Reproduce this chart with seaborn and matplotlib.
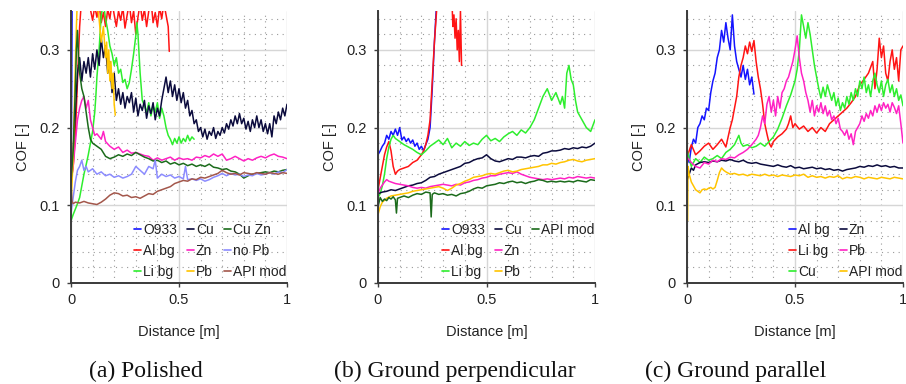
import matplotlib
matplotlib.use('Agg')
import matplotlib.pyplot as plt
import seaborn as sns
import pandas as pd
from matplotlib.lines import Line2D
from matplotlib.ticker import MultipleLocator

sns.set_theme(style='white')
plt.rcParams['font.family'] = ['Liberation Sans', 'DejaVu Sans']

# ---------------- Panel (a) Polished ----------------
a_o933 = [(0.0, 0.10), (0.003, 0.24), (0.006, 0.40), (0.02, 0.48), (0.5, 0.5), (1.0, 0.5)]
a_cu = [(0.00, 0.13), (0.01, 0.17), (0.02, 0.22), (0.03, 0.27), (0.04, 0.29), (0.05, 0.26), (0.06, 0.285),
        (0.07, 0.27), (0.08, 0.29), (0.09, 0.265), (0.10, 0.295), (0.11, 0.275), (0.12, 0.30), (0.13, 0.28),
        (0.14, 0.315), (0.15, 0.29), (0.16, 0.305), (0.17, 0.27), (0.18, 0.285), (0.19, 0.245), (0.20, 0.27),
        (0.21, 0.235), (0.22, 0.25), (0.23, 0.23), (0.24, 0.245), (0.25, 0.225), (0.26, 0.24), (0.27, 0.232),
        (0.28, 0.245), (0.29, 0.22), (0.30, 0.238), (0.31, 0.215), (0.32, 0.23), (0.33, 0.222), (0.34, 0.235),
        (0.35, 0.212), (0.36, 0.228), (0.37, 0.218), (0.38, 0.232), (0.39, 0.21), (0.40, 0.225), (0.41, 0.215),
        (0.42, 0.235), (0.43, 0.25), (0.44, 0.265), (0.45, 0.245), (0.46, 0.26), (0.47, 0.24), (0.48, 0.255),
        (0.49, 0.235), (0.50, 0.25), (0.51, 0.232), (0.52, 0.245), (0.53, 0.225), (0.54, 0.235), (0.55, 0.215),
        (0.56, 0.222), (0.57, 0.205), (0.58, 0.21), (0.59, 0.195), (0.60, 0.20), (0.61, 0.188), (0.62, 0.198),
        (0.63, 0.185), (0.64, 0.195), (0.65, 0.19), (0.66, 0.20), (0.67, 0.186), (0.68, 0.195), (0.69, 0.19),
        (0.70, 0.20), (0.71, 0.193), (0.72, 0.205), (0.73, 0.198), (0.74, 0.21), (0.75, 0.202), (0.76, 0.215),
        (0.77, 0.205), (0.78, 0.218), (0.79, 0.205), (0.80, 0.212), (0.81, 0.198), (0.82, 0.208), (0.83, 0.195),
        (0.84, 0.21), (0.85, 0.20), (0.86, 0.215), (0.87, 0.20), (0.88, 0.21), (0.89, 0.195), (0.90, 0.205),
        (0.91, 0.192), (0.92, 0.205), (0.93, 0.188), (0.94, 0.215), (0.95, 0.205), (0.96, 0.22), (0.97, 0.21),
        (0.98, 0.225), (0.99, 0.215), (1.00, 0.23)]
a_cuzn = [(0.0, 0.13), (0.01, 0.17), (0.02, 0.25), (0.025, 0.30), (0.03, 0.325), (0.035, 0.29), (0.04, 0.27),
          (0.05, 0.25), (0.06, 0.24), (0.07, 0.22), (0.08, 0.20), (0.09, 0.185), (0.10, 0.18), (0.12, 0.176),
          (0.14, 0.172), (0.16, 0.163), (0.18, 0.16), (0.20, 0.162), (0.22, 0.165), (0.24, 0.163), (0.26, 0.166),
          (0.28, 0.164), (0.30, 0.168), (0.32, 0.165), (0.34, 0.162), (0.36, 0.16), (0.38, 0.157), (0.40, 0.158),
          (0.42, 0.155), (0.44, 0.157), (0.46, 0.153), (0.48, 0.155), (0.50, 0.152), (0.52, 0.154), (0.54, 0.151),
          (0.56, 0.153), (0.58, 0.15), (0.60, 0.152), (0.62, 0.15), (0.64, 0.153), (0.66, 0.149), (0.68, 0.148),
          (0.70, 0.146), (0.72, 0.147), (0.74, 0.144), (0.76, 0.143), (0.78, 0.14), (0.80, 0.135), (0.82, 0.138),
          (0.84, 0.14), (0.86, 0.141), (0.88, 0.142), (0.90, 0.143), (0.92, 0.142), (0.94, 0.144), (0.96, 0.143),
          (0.98, 0.145), (1.00, 0.146)]
a_albg = [(0.0, 0.13), (0.01, 0.15), (0.02, 0.19), (0.03, 0.26), (0.04, 0.33), (0.05, 0.37), (0.06, 0.39),
          (0.07, 0.38), (0.08, 0.37), (0.09, 0.352), (0.10, 0.338), (0.11, 0.356), (0.12, 0.342), (0.13, 0.36),
          (0.14, 0.335), (0.15, 0.348), (0.16, 0.33), (0.17, 0.352), (0.18, 0.34), (0.19, 0.362), (0.20, 0.345),
          (0.21, 0.33), (0.22, 0.35), (0.23, 0.338), (0.24, 0.355), (0.25, 0.328), (0.26, 0.345), (0.27, 0.36),
          (0.28, 0.335), (0.29, 0.35), (0.30, 0.32), (0.31, 0.342), (0.32, 0.36), (0.33, 0.338), (0.34, 0.352),
          (0.35, 0.33), (0.36, 0.35), (0.37, 0.365), (0.38, 0.335), (0.39, 0.348), (0.40, 0.33), (0.41, 0.355),
          (0.42, 0.34), (0.43, 0.36), (0.44, 0.345), (0.45, 0.33), (0.455, 0.298)]
a_zn = [(0.0, 0.13), (0.01, 0.15), (0.02, 0.18), (0.03, 0.21), (0.04, 0.225), (0.05, 0.235), (0.06, 0.24),
        (0.07, 0.225), (0.08, 0.235), (0.09, 0.21), (0.10, 0.20), (0.11, 0.19), (0.12, 0.192), (0.14, 0.185),
        (0.15, 0.195), (0.16, 0.182), (0.18, 0.176), (0.20, 0.172), (0.22, 0.175), (0.24, 0.168), (0.26, 0.171),
        (0.28, 0.167), (0.30, 0.168), (0.32, 0.166), (0.34, 0.164), (0.36, 0.163), (0.38, 0.158), (0.40, 0.161),
        (0.42, 0.158), (0.44, 0.16), (0.46, 0.162), (0.48, 0.158), (0.50, 0.161), (0.52, 0.159), (0.54, 0.16),
        (0.56, 0.158), (0.58, 0.162), (0.60, 0.161), (0.62, 0.164), (0.64, 0.162), (0.66, 0.166), (0.68, 0.163),
        (0.70, 0.166), (0.72, 0.158), (0.74, 0.16), (0.76, 0.163), (0.78, 0.16), (0.80, 0.157), (0.82, 0.16),
        (0.84, 0.158), (0.86, 0.161), (0.88, 0.163), (0.90, 0.161), (0.92, 0.164), (0.94, 0.166), (0.96, 0.163),
        (0.98, 0.162), (1.00, 0.16)]
a_nopb = [(0.0, 0.09), (0.01, 0.11), (0.02, 0.13), (0.03, 0.145), (0.04, 0.15), (0.05, 0.158), (0.06, 0.145),
          (0.07, 0.15), (0.08, 0.143), (0.10, 0.147), (0.12, 0.14), (0.14, 0.143), (0.16, 0.138), (0.18, 0.14),
          (0.20, 0.136), (0.22, 0.138), (0.24, 0.135), (0.26, 0.137), (0.28, 0.14), (0.30, 0.15), (0.32, 0.145),
          (0.34, 0.14), (0.36, 0.15), (0.38, 0.147), (0.39, 0.158), (0.40, 0.135), (0.42, 0.14), (0.44, 0.137),
          (0.46, 0.139), (0.48, 0.135), (0.50, 0.137), (0.52, 0.134), (0.53, 0.15), (0.54, 0.133), (0.56, 0.134),
          (0.58, 0.132), (0.60, 0.134), (0.62, 0.131), (0.64, 0.133), (0.66, 0.136), (0.68, 0.138), (0.70, 0.141),
          (0.72, 0.138), (0.74, 0.141), (0.76, 0.139), (0.78, 0.14), (0.80, 0.137), (0.82, 0.139), (0.84, 0.138),
          (0.86, 0.141), (0.88, 0.139), (0.90, 0.14), (0.92, 0.142), (0.94, 0.14), (0.96, 0.143), (0.98, 0.142),
          (1.00, 0.146)]
a_libg = [(0.0, 0.08), (0.01, 0.088), (0.02, 0.095), (0.03, 0.102), (0.04, 0.11), (0.05, 0.125), (0.06, 0.14),
          (0.07, 0.152), (0.08, 0.165), (0.09, 0.18), (0.10, 0.195), (0.11, 0.22), (0.115, 0.24), (0.12, 0.265),
          (0.13, 0.30), (0.14, 0.345), (0.15, 0.36), (0.16, 0.34), (0.17, 0.325), (0.18, 0.305), (0.19, 0.295),
          (0.20, 0.28), (0.21, 0.29), (0.22, 0.27), (0.23, 0.275), (0.24, 0.258), (0.25, 0.262), (0.26, 0.25),
          (0.27, 0.258), (0.28, 0.275), (0.29, 0.295), (0.30, 0.318), (0.305, 0.335), (0.31, 0.32), (0.32, 0.27),
          (0.33, 0.235), (0.34, 0.228), (0.35, 0.22), (0.36, 0.232), (0.37, 0.215), (0.38, 0.228), (0.39, 0.22),
          (0.40, 0.232), (0.41, 0.212), (0.42, 0.225), (0.43, 0.215), (0.44, 0.20), (0.45, 0.19), (0.46, 0.185),
          (0.47, 0.178), (0.48, 0.186), (0.49, 0.18), (0.50, 0.188), (0.51, 0.18), (0.52, 0.186), (0.53, 0.182),
          (0.54, 0.19), (0.55, 0.183), (0.56, 0.188), (0.57, 0.185)]
a_pb = [(0.0, 0.10), (0.01, 0.16), (0.015, 0.22), (0.02, 0.28), (0.025, 0.33), (0.03, 0.37), (0.05, 0.40),
        (0.10, 0.38), (0.12, 0.36), (0.13, 0.34), (0.14, 0.31), (0.15, 0.33), (0.16, 0.29), (0.165, 0.31),
        (0.17, 0.27), (0.175, 0.30), (0.18, 0.26), (0.185, 0.285), (0.19, 0.25), (0.195, 0.27), (0.20, 0.23),
        (0.205, 0.216)]
a_apimod = [(0.0, 0.125), (0.005, 0.105), (0.01, 0.102), (0.02, 0.104), (0.04, 0.103), (0.06, 0.105), (0.08, 0.103),
            (0.10, 0.102), (0.12, 0.101), (0.14, 0.104), (0.16, 0.108), (0.18, 0.113), (0.20, 0.116), (0.22, 0.115),
            (0.24, 0.112), (0.26, 0.113), (0.28, 0.11), (0.30, 0.111), (0.32, 0.109), (0.34, 0.112), (0.36, 0.115),
            (0.38, 0.114), (0.40, 0.118), (0.42, 0.12), (0.44, 0.122), (0.46, 0.124), (0.48, 0.128), (0.50, 0.13),
            (0.52, 0.132), (0.54, 0.131), (0.56, 0.134), (0.58, 0.133), (0.60, 0.136), (0.62, 0.135), (0.64, 0.137),
            (0.66, 0.139), (0.68, 0.141), (0.70, 0.145), (0.72, 0.142), (0.74, 0.14), (0.76, 0.141), (0.78, 0.139),
            (0.80, 0.142), (0.82, 0.141), (0.84, 0.14), (0.86, 0.142), (0.88, 0.141), (0.90, 0.14), (0.92, 0.142),
            (0.94, 0.141), (0.96, 0.14), (0.98, 0.142), (1.00, 0.141)]

# ---------------- Panel (b) Ground perpendicular ----------------
b_o933 = [(0.0, 0.165), (0.01, 0.17), (0.02, 0.176), (0.03, 0.18), (0.04, 0.19), (0.05, 0.185), (0.06, 0.195),
          (0.07, 0.19), (0.08, 0.198), (0.09, 0.19), (0.10, 0.20), (0.11, 0.184), (0.12, 0.188), (0.13, 0.182),
          (0.14, 0.186), (0.15, 0.18), (0.16, 0.184), (0.17, 0.176), (0.18, 0.18), (0.19, 0.172), (0.20, 0.176),
          (0.21, 0.17), (0.22, 0.178), (0.23, 0.185), (0.24, 0.20), (0.25, 0.25), (0.26, 0.31), (0.27, 0.36),
          (0.28, 0.40)]
b_cu = [(0.00, 0.115), (0.02, 0.117), (0.04, 0.118), (0.06, 0.12), (0.08, 0.119), (0.10, 0.121), (0.12, 0.123),
        (0.14, 0.125), (0.16, 0.126), (0.18, 0.128), (0.20, 0.129), (0.22, 0.132), (0.24, 0.136), (0.26, 0.137),
        (0.28, 0.14), (0.30, 0.142), (0.32, 0.144), (0.34, 0.146), (0.36, 0.148), (0.38, 0.15), (0.40, 0.154),
        (0.42, 0.155), (0.44, 0.158), (0.46, 0.16), (0.48, 0.161), (0.50, 0.165), (0.52, 0.16), (0.54, 0.157),
        (0.56, 0.156), (0.58, 0.158), (0.60, 0.16), (0.62, 0.159), (0.64, 0.162), (0.66, 0.162), (0.68, 0.161),
        (0.70, 0.163), (0.72, 0.164), (0.74, 0.163), (0.76, 0.167), (0.78, 0.168), (0.80, 0.17), (0.82, 0.17),
        (0.84, 0.171), (0.86, 0.173), (0.88, 0.172), (0.90, 0.174), (0.92, 0.173), (0.94, 0.175), (0.96, 0.174),
        (0.98, 0.176), (1.00, 0.18)]
b_apimod = [(0.0, 0.098), (0.01, 0.11), (0.02, 0.105), (0.03, 0.108), (0.04, 0.106), (0.05, 0.11), (0.06, 0.108),
            (0.07, 0.111), (0.08, 0.107), (0.085, 0.09), (0.09, 0.109), (0.10, 0.11), (0.12, 0.112), (0.14, 0.11),
            (0.16, 0.113), (0.18, 0.115), (0.20, 0.114), (0.22, 0.117), (0.24, 0.116), (0.245, 0.085), (0.25, 0.114),
            (0.26, 0.116), (0.28, 0.114), (0.30, 0.115), (0.32, 0.113), (0.34, 0.114), (0.36, 0.112), (0.38, 0.115),
            (0.40, 0.116), (0.42, 0.118), (0.44, 0.121), (0.46, 0.123), (0.48, 0.122), (0.50, 0.125), (0.52, 0.126),
            (0.54, 0.127), (0.56, 0.129), (0.58, 0.128), (0.60, 0.13), (0.62, 0.131), (0.64, 0.129), (0.66, 0.13),
            (0.68, 0.128), (0.70, 0.13), (0.72, 0.131), (0.74, 0.133), (0.76, 0.132), (0.78, 0.13), (0.80, 0.131),
            (0.82, 0.13), (0.84, 0.131), (0.86, 0.13), (0.88, 0.131), (0.90, 0.13), (0.92, 0.132), (0.94, 0.131),
            (0.96, 0.13), (0.98, 0.133), (1.00, 0.132)]
b_albg = [(0.0, 0.12), (0.01, 0.135), (0.02, 0.15), (0.03, 0.165), (0.04, 0.175), (0.05, 0.182), (0.06, 0.17),
          (0.07, 0.15), (0.08, 0.14), (0.09, 0.144), (0.10, 0.146), (0.12, 0.148), (0.14, 0.15), (0.16, 0.155),
          (0.18, 0.158), (0.20, 0.165), (0.21, 0.17), (0.22, 0.178), (0.23, 0.19), (0.24, 0.21), (0.25, 0.26),
          (0.26, 0.31), (0.27, 0.35), (0.28, 0.38), (0.30, 0.40), (0.32, 0.38), (0.34, 0.37), (0.345, 0.33),
          (0.35, 0.345), (0.355, 0.315), (0.36, 0.34), (0.365, 0.30), (0.37, 0.325), (0.375, 0.285), (0.38, 0.35),
          (0.385, 0.28)]
b_zn = [(0.0, 0.115), (0.01, 0.122), (0.02, 0.126), (0.03, 0.13), (0.04, 0.133), (0.05, 0.131), (0.06, 0.13),
        (0.08, 0.128), (0.10, 0.127), (0.12, 0.126), (0.14, 0.125), (0.16, 0.123), (0.18, 0.122), (0.20, 0.123),
        (0.22, 0.122), (0.24, 0.124), (0.26, 0.125), (0.28, 0.126), (0.30, 0.127), (0.32, 0.126), (0.34, 0.125),
        (0.36, 0.127), (0.38, 0.126), (0.40, 0.129), (0.42, 0.13), (0.44, 0.132), (0.46, 0.133), (0.48, 0.135),
        (0.50, 0.136), (0.52, 0.138), (0.54, 0.138), (0.56, 0.14), (0.58, 0.141), (0.60, 0.142), (0.62, 0.141),
        (0.64, 0.143), (0.66, 0.14), (0.68, 0.138), (0.70, 0.136), (0.72, 0.135), (0.74, 0.134), (0.76, 0.133),
        (0.78, 0.134), (0.80, 0.133), (0.82, 0.134), (0.84, 0.135), (0.86, 0.134), (0.88, 0.136), (0.90, 0.135),
        (0.92, 0.137), (0.94, 0.136), (0.96, 0.135), (0.98, 0.136), (1.00, 0.135)]
b_libg = [(0.0, 0.11), (0.01, 0.115), (0.02, 0.125), (0.03, 0.14), (0.04, 0.16), (0.05, 0.175), (0.06, 0.185),
          (0.07, 0.19), (0.08, 0.186), (0.09, 0.184), (0.10, 0.182), (0.12, 0.178), (0.14, 0.175), (0.16, 0.172),
          (0.18, 0.168), (0.20, 0.165), (0.22, 0.17), (0.24, 0.176), (0.26, 0.18), (0.28, 0.184), (0.30, 0.178),
          (0.32, 0.186), (0.34, 0.174), (0.36, 0.18), (0.38, 0.176), (0.40, 0.182), (0.42, 0.177), (0.44, 0.18),
          (0.46, 0.178), (0.48, 0.185), (0.50, 0.19), (0.52, 0.183), (0.54, 0.186), (0.56, 0.182), (0.58, 0.188),
          (0.60, 0.192), (0.62, 0.195), (0.64, 0.19), (0.66, 0.197), (0.68, 0.193), (0.70, 0.20), (0.72, 0.21),
          (0.74, 0.225), (0.76, 0.24), (0.78, 0.25), (0.80, 0.235), (0.82, 0.245), (0.84, 0.23), (0.85, 0.24),
          (0.86, 0.225), (0.87, 0.27), (0.88, 0.28), (0.89, 0.262), (0.90, 0.255), (0.91, 0.235), (0.92, 0.22),
          (0.94, 0.21), (0.96, 0.20), (0.98, 0.195), (1.00, 0.21)]
b_pb = [(0.0, 0.088), (0.01, 0.098), (0.02, 0.104), (0.04, 0.109), (0.06, 0.112), (0.08, 0.113), (0.10, 0.114),
        (0.12, 0.115), (0.14, 0.116), (0.16, 0.118), (0.18, 0.119), (0.20, 0.12), (0.22, 0.121), (0.24, 0.122),
        (0.26, 0.123), (0.28, 0.124), (0.30, 0.122), (0.32, 0.119), (0.34, 0.122), (0.36, 0.126), (0.38, 0.128),
        (0.40, 0.131), (0.42, 0.133), (0.44, 0.136), (0.46, 0.137), (0.48, 0.138), (0.50, 0.14), (0.52, 0.141),
        (0.54, 0.14), (0.56, 0.142), (0.58, 0.144), (0.60, 0.145), (0.62, 0.143), (0.64, 0.144), (0.66, 0.146),
        (0.68, 0.147), (0.70, 0.148), (0.72, 0.149), (0.74, 0.15), (0.76, 0.152), (0.78, 0.152), (0.80, 0.154),
        (0.82, 0.153), (0.84, 0.155), (0.86, 0.156), (0.88, 0.158), (0.90, 0.159), (0.92, 0.157), (0.94, 0.156),
        (0.96, 0.158), (0.98, 0.159), (1.00, 0.16)]

# ---------------- Panel (c) Ground parallel ----------------
c_albg = [(0.00, 0.167), (0.01, 0.155), (0.02, 0.175), (0.03, 0.185), (0.04, 0.18), (0.05, 0.20), (0.06, 0.205),
          (0.07, 0.215), (0.08, 0.21), (0.09, 0.225), (0.10, 0.222), (0.11, 0.245), (0.12, 0.26), (0.13, 0.27),
          (0.14, 0.29), (0.15, 0.30), (0.16, 0.325), (0.17, 0.31), (0.18, 0.335), (0.19, 0.315), (0.20, 0.30),
          (0.21, 0.345), (0.22, 0.305), (0.23, 0.285), (0.24, 0.275), (0.25, 0.265), (0.26, 0.28), (0.27, 0.262),
          (0.28, 0.275), (0.29, 0.255), (0.30, 0.265), (0.31, 0.243)]
c_zn = [(0.00, 0.132), (0.01, 0.14), (0.02, 0.148), (0.03, 0.145), (0.04, 0.152), (0.06, 0.155), (0.08, 0.156),
        (0.10, 0.155), (0.12, 0.157), (0.14, 0.156), (0.16, 0.158), (0.18, 0.157), (0.20, 0.159), (0.22, 0.157),
        (0.24, 0.156), (0.26, 0.158), (0.28, 0.155), (0.30, 0.154), (0.32, 0.155), (0.34, 0.153), (0.36, 0.152),
        (0.38, 0.151), (0.40, 0.15), (0.42, 0.152), (0.44, 0.15), (0.46, 0.149), (0.48, 0.151), (0.50, 0.148),
        (0.52, 0.149), (0.54, 0.147), (0.56, 0.148), (0.58, 0.149), (0.60, 0.147), (0.62, 0.148), (0.64, 0.146),
        (0.66, 0.147), (0.68, 0.145), (0.70, 0.146), (0.72, 0.144), (0.74, 0.146), (0.76, 0.147), (0.78, 0.148),
        (0.80, 0.15), (0.82, 0.149), (0.84, 0.151), (0.86, 0.15), (0.88, 0.152), (0.90, 0.15), (0.92, 0.151),
        (0.94, 0.149), (0.96, 0.15), (0.98, 0.148), (1.00, 0.148)]
c_libg = [(0.00, 0.162), (0.02, 0.178), (0.04, 0.165), (0.06, 0.17), (0.08, 0.176), (0.10, 0.18), (0.12, 0.172),
          (0.14, 0.178), (0.16, 0.185), (0.18, 0.175), (0.20, 0.20), (0.21, 0.21), (0.22, 0.225), (0.23, 0.24),
          (0.24, 0.265), (0.25, 0.28), (0.26, 0.29), (0.27, 0.305), (0.28, 0.295), (0.29, 0.31), (0.30, 0.298),
          (0.31, 0.312), (0.32, 0.285), (0.33, 0.265), (0.34, 0.25), (0.35, 0.23), (0.36, 0.205), (0.37, 0.192),
          (0.38, 0.18), (0.39, 0.175), (0.40, 0.182), (0.42, 0.188), (0.44, 0.192), (0.46, 0.198), (0.47, 0.205),
          (0.48, 0.215), (0.49, 0.20), (0.50, 0.205), (0.52, 0.198), (0.54, 0.202), (0.56, 0.195), (0.58, 0.20),
          (0.60, 0.193), (0.62, 0.20), (0.64, 0.195), (0.66, 0.205), (0.68, 0.21), (0.70, 0.215), (0.72, 0.22),
          (0.74, 0.225), (0.76, 0.232), (0.78, 0.24), (0.80, 0.255), (0.82, 0.262), (0.84, 0.27), (0.86, 0.285),
          (0.87, 0.25), (0.88, 0.275), (0.89, 0.315), (0.90, 0.29), (0.91, 0.305), (0.92, 0.27), (0.93, 0.26),
          (0.94, 0.285), (0.95, 0.30), (0.96, 0.275), (0.97, 0.29), (0.98, 0.26), (0.99, 0.30), (1.00, 0.305)]
c_pb = [(0.00, 0.162), (0.02, 0.155), (0.04, 0.15), (0.06, 0.148), (0.08, 0.155), (0.10, 0.153), (0.12, 0.158),
        (0.14, 0.156), (0.16, 0.16), (0.18, 0.159), (0.20, 0.162), (0.22, 0.161), (0.24, 0.165), (0.26, 0.168),
        (0.28, 0.172), (0.30, 0.178), (0.32, 0.185), (0.33, 0.19), (0.34, 0.20), (0.35, 0.215), (0.36, 0.205),
        (0.37, 0.23), (0.38, 0.24), (0.39, 0.22), (0.40, 0.235), (0.41, 0.215), (0.42, 0.24), (0.43, 0.225),
        (0.44, 0.245), (0.45, 0.25), (0.46, 0.26), (0.47, 0.265), (0.48, 0.275), (0.49, 0.285), (0.50, 0.30),
        (0.51, 0.318), (0.52, 0.29), (0.53, 0.27), (0.54, 0.26), (0.55, 0.245), (0.56, 0.235), (0.57, 0.22),
        (0.58, 0.235), (0.59, 0.215), (0.60, 0.228), (0.61, 0.22), (0.62, 0.232), (0.63, 0.218), (0.64, 0.228),
        (0.65, 0.215), (0.66, 0.222), (0.67, 0.21), (0.68, 0.215), (0.69, 0.205), (0.70, 0.212), (0.71, 0.198),
        (0.72, 0.195), (0.73, 0.19), (0.74, 0.197), (0.75, 0.185), (0.76, 0.192), (0.77, 0.178), (0.78, 0.195),
        (0.79, 0.20), (0.80, 0.205), (0.81, 0.215), (0.82, 0.208), (0.83, 0.218), (0.84, 0.212), (0.85, 0.222),
        (0.86, 0.215), (0.87, 0.228), (0.88, 0.22), (0.89, 0.23), (0.90, 0.222), (0.91, 0.232), (0.92, 0.225),
        (0.93, 0.23), (0.94, 0.22), (0.95, 0.232), (0.96, 0.226), (0.97, 0.218), (0.98, 0.228), (0.99, 0.205),
        (1.00, 0.18)]
c_cu = [(0.00, 0.171), (0.02, 0.15), (0.04, 0.16), (0.06, 0.155), (0.08, 0.162), (0.10, 0.158), (0.12, 0.16),
        (0.14, 0.164), (0.16, 0.16), (0.18, 0.168), (0.20, 0.172), (0.22, 0.178), (0.24, 0.19), (0.25, 0.18),
        (0.26, 0.176), (0.28, 0.178), (0.30, 0.174), (0.32, 0.176), (0.34, 0.18), (0.36, 0.176), (0.38, 0.182),
        (0.40, 0.188), (0.42, 0.198), (0.44, 0.212), (0.46, 0.228), (0.48, 0.242), (0.50, 0.26), (0.51, 0.275),
        (0.52, 0.30), (0.53, 0.345), (0.54, 0.33), (0.55, 0.315), (0.56, 0.335), (0.57, 0.32), (0.58, 0.30),
        (0.59, 0.28), (0.60, 0.265), (0.61, 0.25), (0.62, 0.238), (0.63, 0.252), (0.64, 0.24), (0.65, 0.255),
        (0.66, 0.245), (0.67, 0.235), (0.68, 0.245), (0.69, 0.228), (0.70, 0.238), (0.71, 0.222), (0.72, 0.232),
        (0.73, 0.225), (0.74, 0.24), (0.75, 0.23), (0.76, 0.245), (0.77, 0.235), (0.78, 0.25), (0.79, 0.24),
        (0.80, 0.26), (0.81, 0.25), (0.82, 0.265), (0.83, 0.245), (0.84, 0.255), (0.85, 0.24), (0.86, 0.26),
        (0.87, 0.27), (0.88, 0.255), (0.89, 0.245), (0.90, 0.26), (0.91, 0.24), (0.92, 0.255), (0.93, 0.262),
        (0.94, 0.245), (0.95, 0.255), (0.96, 0.24), (0.97, 0.25), (0.98, 0.235), (0.99, 0.242), (1.00, 0.228)]
c_apimod = [(0.0, 0.19), (0.002, 0.08), (0.005, 0.15), (0.01, 0.14), (0.02, 0.13), (0.03, 0.125), (0.04, 0.12),
            (0.05, 0.118), (0.06, 0.116), (0.07, 0.12), (0.08, 0.121), (0.09, 0.12), (0.10, 0.122), (0.11, 0.123),
            (0.12, 0.121), (0.13, 0.123), (0.14, 0.132), (0.15, 0.142), (0.16, 0.148), (0.17, 0.145), (0.18, 0.143),
            (0.20, 0.14), (0.22, 0.141), (0.24, 0.139), (0.26, 0.14), (0.28, 0.138), (0.30, 0.14), (0.32, 0.139),
            (0.34, 0.138), (0.36, 0.14), (0.38, 0.138), (0.40, 0.139), (0.42, 0.137), (0.44, 0.139), (0.46, 0.138),
            (0.48, 0.137), (0.50, 0.139), (0.52, 0.138), (0.54, 0.14), (0.56, 0.136), (0.58, 0.138), (0.60, 0.136),
            (0.62, 0.137), (0.64, 0.135), (0.66, 0.137), (0.68, 0.136), (0.70, 0.138), (0.72, 0.134), (0.74, 0.136),
            (0.76, 0.135), (0.78, 0.137), (0.80, 0.136), (0.82, 0.134), (0.84, 0.136), (0.86, 0.135), (0.88, 0.134),
            (0.90, 0.136), (0.92, 0.135), (0.94, 0.134), (0.96, 0.136), (0.98, 0.135), (1.00, 0.134)]

# colours
BLUE, NAVY, DKGREEN = '#1414ff', '#0b0b3d', '#1b6b1b'
RED, MAGENTA, LAVENDER = '#ff1414', '#ff22c4', '#8c8cff'
LIME, GOLD, BROWN = '#2eee2e', '#ffc400', '#a3574b'

panels = [
    dict(series=[('O933', a_o933, BLUE), ('Al bg', a_albg, RED), ('Li bg', a_libg, LIME),
                 ('Cu', a_cu, NAVY), ('Zn', a_zn, MAGENTA), ('Pb', a_pb, GOLD),
                 ('Cu Zn', a_cuzn, DKGREEN), ('no Pb', a_nopb, LAVENDER), ('API mod', a_apimod, BROWN)],
         ncol=3, pos=[71, 287], caption='(a) Polished', cap_x=146),
    dict(series=[('O933', b_o933, BLUE), ('Al bg', b_albg, RED), ('Li bg', b_libg, LIME),
                 ('Cu', b_cu, NAVY), ('Zn', b_zn, MAGENTA), ('Pb', b_pb, GOLD),
                 ('API mod', b_apimod, DKGREEN)],
         ncol=3, pos=[378, 595], caption='(b) Ground perpendicular', cap_x=455),
    dict(series=[('Al bg', c_albg, BLUE), ('Li bg', c_libg, RED), ('Cu', c_cu, LIME),
                 ('Zn', c_zn, NAVY), ('Pb', c_pb, MAGENTA), ('API mod', c_apimod, GOLD)],
         ncol=2, pos=[687, 903], caption='(c) Ground parallel', cap_x=736),
]

W, H = 906, 384
fig = plt.figure(figsize=(W / 100, H / 100), dpi=100)
fig.patch.set_facecolor('white')
TXT = '#222222'

for p in panels:
    x0, x1 = p['pos']
    ax = fig.add_axes([x0 / W, 1 - 283 / H, (x1 - x0) / W, (283 - 11) / H])
    rows = []
    for name, pts, col in p['series']:
        for x, y in pts:
            rows.append((name, x, y))
    df = pd.DataFrame(rows, columns=['series', 'x', 'y'])
    names = [s[0] for s in p['series']]
    pal = {s[0]: s[2] for s in p['series']}
    sns.lineplot(data=df, x='x', y='y', hue='series', hue_order=names, palette=pal,
                 estimator=None, sort=False, linewidth=1.1, legend=False, ax=ax)
    ax.set_xlim(0, 1)
    ax.set_ylim(0, 0.35)
    ax.set_xticks([0, 0.5, 1])
    ax.set_xticklabels(['0', '0.5', '1'])
    ax.set_yticks([0, 0.1, 0.2, 0.3])
    ax.set_yticklabels(['0', '0.1', '0.2', '0.3'])
    ax.xaxis.set_minor_locator(MultipleLocator(0.1))
    ax.yaxis.set_minor_locator(MultipleLocator(0.02))
    ax.set_axisbelow(True)
    ax.grid(which='major', color='#d6d6d6', linewidth=1.0, linestyle='-')
    ax.grid(which='minor', color='#9a9a9a', linewidth=0.8, linestyle=(0, (1, 4)))
    ax.tick_params(which='minor', length=0)
    ax.tick_params(which='major', bottom=True, left=True, length=3, width=1.0, color='#404040',
                   direction='out', labelsize=10.5, labelcolor=TXT)
    ax.tick_params(axis='y', pad=5)
    ax.tick_params(axis='x', pad=4)
    for s in ['top', 'right']:
        ax.spines[s].set_visible(False)
    for s in ['left', 'bottom']:
        ax.spines[s].set_color('#3a3a3a')
        ax.spines[s].set_linewidth(1.4)
    ax.set_xlabel('Distance [m]', fontsize=10.5, labelpad=13, color=TXT)
    ax.set_ylabel('COF [-]', fontsize=10.5, labelpad=7, color=TXT)
    handles = [Line2D([0], [0], color=s[2], lw=1.2) for s in p['series']]
    labels = list(names)
    if p['ncol'] == 3:
        while len(handles) % 3:
            handles.append(Line2D([0], [0], color='none', lw=0))
            labels.append('')
    ax.legend(handles, labels, ncol=p['ncol'], loc='lower right', bbox_to_anchor=(1.015, 0.0),
              frameon=False, fontsize=10, handlelength=0.5, handletextpad=0.12,
              columnspacing=0.75, labelspacing=0.5, borderpad=0.2, borderaxespad=0.1,
              labelcolor=TXT)
    fig.text(p['cap_x'] / W, 1 - 371 / H, p['caption'], ha='center', va='center',
             fontsize=17, family=['Liberation Serif', 'DejaVu Serif'], color='#111111')

fig.savefig('out.png', dpi=100, facecolor='white')
